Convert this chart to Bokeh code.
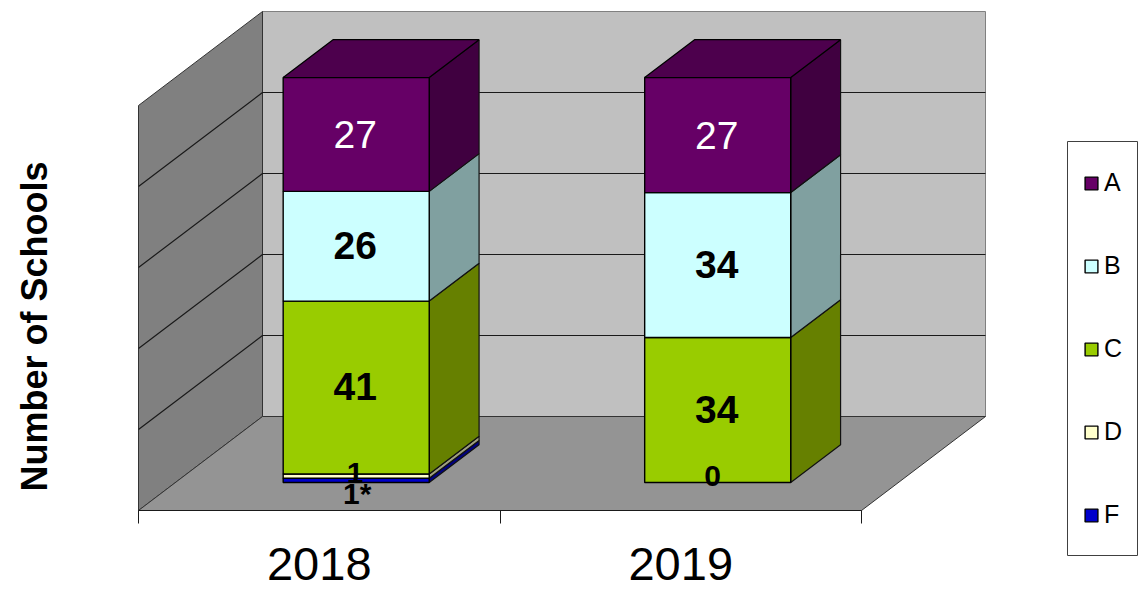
from bokeh.plotting import figure
from bokeh.models import Range1d, LinearAxis, FixedTicker, Legend, LegendItem, ColumnDataSource
from bokeh.core.properties import value
from bokeh.embed import file_html
from bokeh.resources import INLINE

# ---- chart data ----
years = ["2018", "2019"]
grades = ["F", "D", "C", "B", "A"]
schools_F = [1, 0]
schools_D = [1, 0]
schools_C = [41, 34]
schools_B = [26, 34]
schools_A = [27, 27]
labels_F = ["1*", ""]
labels_D = ["1", "0"]
labels_C = ["41", "34"]
labels_B = ["26", "34"]
labels_A = ["27", "27"]
grid_percent = [0, 20, 40, 60, 80, 100]

# ---- styles ----
front_colors = {"A": "#660066", "B": "#CCFFFF", "C": "#99CC00", "D": "#FFFFCC", "F": "#0000CC"}
side_colors = {"A": "#400040", "B": "#80A0A0", "C": "#668000", "D": "#A0A080", "F": "#000080"}
top_color = "#4D004D"
FONT = "Liberation Sans"

series = {"F": schools_F, "D": schools_D, "C": schools_C, "B": schools_B, "A": schools_A}
labels = {"F": labels_F, "D": labels_D, "C": labels_C, "B": labels_B, "A": labels_A}
label_offset = {"F": 13, "D": -3, "C": -1, "B": -1, "A": 0}

# scale: one category = 361.5 px, 100 % = 405 px; data origin at pixel (138, 510) of the page
PX_X, PX_Y = 361.5, 4.05
W, H = 1140, 591
x_range = Range1d((0 - 138) / PX_X, (W - 138) / PX_X)
y_range = Range1d((510 - H) / PX_Y, 510 / PX_Y)
DX, DY = 124 / PX_X, 94 / PX_Y      # full floor depth
D0, D1 = 0.298, 0.70                # bar depth on the floor
B0, B1 = 0.298, 0.702               # bar extent inside a category


def pt(u, pct, d=0.0):
    return u + d * DX, pct + d * DY


def poly(points):
    xs, ys = zip(*points)
    return list(xs), list(ys)


p = figure(width=W, height=H, x_range=x_range, y_range=y_range, output_backend="svg",
           toolbar_location=None, min_border=0, outline_line_color=None,
           x_axis_type=None, y_axis_type=None, background_fill_color="white")
p.grid.visible = False

# walls and floor
wx, wy = poly([pt(0, 0, 1), pt(2, 0, 1), pt(2, 100, 1), pt(0, 100, 1)])
p.patch(wx, wy, fill_color="#C0C0C0", line_color="#808080", line_width=1)
wx, wy = poly([pt(0, 0), pt(0, 0, 1), pt(0, 100, 1), pt(0, 100)])
p.patch(wx, wy, fill_color="#808080", line_color="#333333", line_width=1)
wx, wy = poly([pt(0, 0), pt(2, 0), pt(2, 0, 1), pt(0, 0, 1)])
p.patch(wx, wy, fill_color="#949494", line_color="#333333", line_width=1)

# gridlines over the two walls
for g in grid_percent[1:-1]:
    a, b, c = pt(0, g), pt(0, g, 1), pt(2, g, 1)
    p.line([a[0], b[0], c[0]], [a[1], b[1], c[1]], line_color="#1a1a1a", line_width=1.2)

# stacked bars (100 % stacked)
front = {g: ([], []) for g in grades}
side = {g: ([], []) for g in grades}
top_x, top_y = [], []
lx, ly, lt, lc, lo, lxo, ls, lw = [], [], [], [], [], [], [], []
for i, year in enumerate(years):
    total = sum(series[g][i] for g in grades)
    base = 0.0
    for g in grades:
        share = series[g][i] / total * 100
        l, r = i + B0, i + B1
        if share > 0:
            fx, fy = poly([pt(l, base, D0), pt(r, base, D0), pt(r, base + share, D0), pt(l, base + share, D0)])
            front[g][0].append(fx); front[g][1].append(fy)
            sx, sy = poly([pt(r, base, D0), pt(r, base, D1), pt(r, base + share, D1), pt(r, base + share, D0)])
            side[g][0].append(sx); side[g][1].append(sy)
        if labels[g][i]:
            cx, cy = pt((l + r) / 2, base + share / 2, D0)
            small = g in ("F", "D")
            empty = g == "D" and share == 0
            lx.append(cx); ly.append(cy); lt.append(labels[g][i])
            lc.append("white" if g == "A" else "black")
            lo.append(-6 if empty else label_offset[g])
            lxo.append(-5 if empty else (1 if g == "F" else -1))
            ls.append("30px" if small else "39px")
            lw.append("normal" if g == "A" else "bold")
        base += share
    tx, ty = poly([pt(i + B0, 100, D0), pt(i + B1, 100, D0), pt(i + B1, 100, D1), pt(i + B0, 100, D1)])
    top_x.append(tx); top_y.append(ty)

front_r = {}
for g in grades:
    p.patches(side[g][0], side[g][1], fill_color=side_colors[g], line_color="#111111", line_width=1.2)
    front_r[g] = p.patches(front[g][0], front[g][1], fill_color=front_colors[g], line_color="#000000", line_width=1.4)
p.patches(top_x, top_y, fill_color=top_color, line_color="#000000", line_width=1.2)

# legend frame and legend
fx0, fx1 = (1067 - 138) / PX_X, (1137 - 138) / PX_X
fy0, fy1 = (510 - 555) / PX_Y, (510 - 141) / PX_Y
p.quad(left=fx0, right=fx1, bottom=fy0, top=fy1, fill_color="white", line_color="#404040", line_width=1)

legend = Legend(items=[LegendItem(label=g, renderers=[front_r[g]]) for g in ["A", "B", "C", "D", "F"]],
                location=(1083, 62), orientation="vertical", padding=0, margin=0, spacing=54,
                glyph_width=16, glyph_height=16, label_standoff=5,
                label_text_font=FONT, label_text_font_size="25px", label_text_color="black",
                border_line_color=None, background_fill_alpha=0)
p.add_layout(legend, "center")

# bar labels
src = ColumnDataSource(dict(x=lx, y=ly, t=lt, c=lc, o=lo, xo=lxo, s=ls, w=lw))
p.text(x="x", y="y", text="t", text_color="c", y_offset="o", x_offset="xo", text_font_size="s", text_font_style="w",
       text_font=value(FONT), text_align="center", text_baseline="middle", source=src)

# category axis with ticks between the categories
xaxis = LinearAxis(ticker=FixedTicker(ticks=[0.5, 1.5], minor_ticks=[0, 1, 2]),
                   major_label_overrides={0.5: years[0], 1.5: years[1]},
                   fixed_location=0, bounds=(0, 2),
                   major_tick_out=0, major_tick_in=0, minor_tick_out=13, minor_tick_in=0,
                   minor_tick_line_color="#1a1a1a", axis_line_color="#1a1a1a",
                   major_label_text_font=FONT, major_label_text_font_size="47px",
                   major_label_text_color="black", major_label_standoff=24)
p.add_layout(xaxis, "below")

# value axis: only its title is shown
yaxis = LinearAxis(ticker=FixedTicker(ticks=[]), fixed_location=x_range.start + 54 / PX_X, bounds=(0, 90.8),
                   axis_line_color=None, major_tick_line_color=None, minor_tick_line_color=None,
                   major_label_text_font_size="0px",
                   axis_label="Number of Schools", axis_label_text_font=FONT,
                   axis_label_text_font_style="bold", axis_label_text_font_size="36px",
                   axis_label_text_color="black", axis_label_standoff=0)
p.add_layout(yaxis, "left")

open("out.html", "w").write(file_html(p, INLINE))
